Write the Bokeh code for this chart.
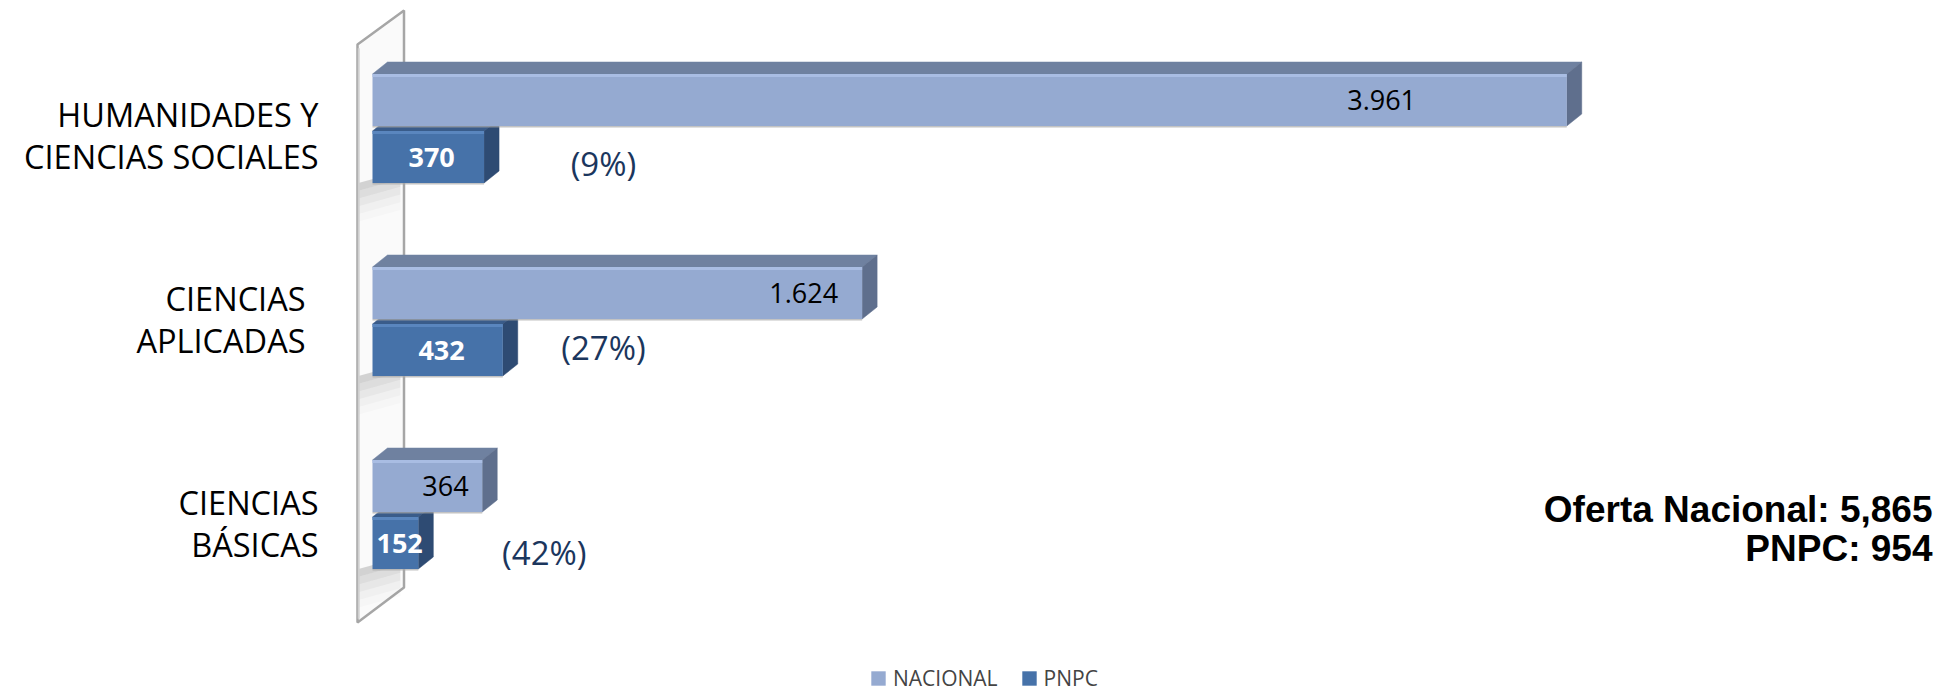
from bokeh.plotting import figure
from bokeh.models import Range1d, Legend, LegendItem
from bokeh.core.properties import value
from bokeh.embed import file_html
from bokeh.resources import INLINE

# ---------------- data ----------------
categories = ["CIENCIAS\nBÁSICAS", "CIENCIAS\nAPLICADAS", "HUMANIDADES Y\nCIENCIAS SOCIALES"]
nacional = [364, 1624, 3961]
pnpc = [152, 432, 370]
nacional_labels = ["364", "1.624", "3.961"]
pnpc_labels = ["152", "432", "370"]
pct_labels = ["(42%)", "(27%)", "(9%)"]
series = ["NACIONAL", "PNPC"]
summary = ["Oferta Nacional: 5,865", "PNPC: 954"]

# ---------------- layout / style ----------------
W, H = 1953, 692
PXU = 0.3015                 # px per value unit
ROW = 193.0                  # px per category row
xs = -372 / PXU
xe = xs + W / PXU
ye = 2 + 128 / ROW
ys = ye - H / ROW

BAR_H = 52 / ROW
GAP = 2.5 / ROW
DX = 15 / PXU
DY = 12 / ROW

# label positions (value units / row units)
nac_label_x = [242, 1430, 3347]
pnpc_label_x = [90, 229, 196]
pct_x = [570, 766, 766]
pct_dy = [-0.197, -0.135, -0.181]
cat_label_right = [-179, -222, -179]
cat_label_dy = [-0.047, 0.01, -0.036]

NAC_FRONT, NAC_TOP, NAC_SIDE = "#95AAD1", "#6F81A0", "#5F6F8D"
PN_FRONT, PN_TOP, PN_SIDE = "#4672A9", "#3A5C8A", "#2E4B73"

p = figure(width=W, height=H, output_backend="svg", toolbar_location=None,
           x_range=Range1d(xs, xe), y_range=Range1d(ys, ye), min_border=0)
p.axis.visible = False
p.grid.visible = False
p.outline_line_color = None
p.background_fill_color = "white"

# ---------------- side wall ----------------
wl, wr = -DX, 2.1 * DX
wall_x = [wl, wr, wr, wl]
wall_y = [ye - 44 / ROW, ye - 10 / ROW, ye - 587 / ROW, ye - 622 / ROW]
p.patch(wall_x, wall_y, fill_color="#FAFAFA", line_color="#A6A6A6", line_width=2.5)
# soft shadows on the wall below each group
for i in range(3):
    base = i - GAP - BAR_H
    for k, a in enumerate([0.32, 0.23, 0.15, 0.08, 0.03]):
        t = base - k * 0.04
        b = t - 0.04
        p.patch([wl + 3, wr - 12, wr - 12, wl + 3],
                [t, t + 0.06, b + 0.06, b], fill_color="#7F7F7F",
                fill_alpha=a, line_color=None)
p.line([wl + 4, wl + 4], [wall_y[3] + 0.02, wall_y[0] - 0.02], line_color="#D0D0D0", line_width=2)

# ---------------- bars (3D) ----------------
def bar3d(vals, bottoms, front, top, side, hl):
    tx, ty, sx, sy = [], [], [], []
    for v, b in zip(vals, bottoms):
        t = b + BAR_H
        tx.append([0, v, v + DX, DX]); ty.append([t, t, t + DY, t + DY])
        sx.append([v, v, v + DX, v + DX]); sy.append([b, t, t + DY, b + DY])
    p.patches(tx, ty, fill_color=top, line_color=top, line_width=0.5)
    p.patches(sx, sy, fill_color=side, line_color=side, line_width=0.5)
    r = p.quad(left=[0] * len(vals), right=vals, bottom=bottoms,
               top=[b + BAR_H for b in bottoms], fill_color=front,
               line_color=None)
    p.quad(left=[0] * len(vals), right=vals,
           bottom=[b + BAR_H - 3 / ROW for b in bottoms],
           top=[b + BAR_H for b in bottoms], fill_color=hl, line_color=None)
    p.quad(left=[0] * len(vals), right=vals,
           bottom=[b - 1.5 / ROW for b in bottoms],
           top=[b for b in bottoms], fill_color="#A9A9A9", fill_alpha=0.7,
           line_color=None)
    return r

yc = list(range(len(categories)))
r_pn = bar3d(pnpc, [y - GAP - BAR_H for y in yc], PN_FRONT, PN_TOP, PN_SIDE, "#5A86BE")
r_nac = bar3d(nacional, [y + GAP for y in yc], NAC_FRONT, NAC_TOP, NAC_SIDE, "#A9BDE3")

# ---------------- texts ----------------
p.text(x=nac_label_x, y=[y + GAP + BAR_H / 2 for y in yc], text=nacional_labels,
       text_font=value("Open Sans"), text_font_size="27px", text_color="black",
       text_align="center", text_baseline="middle")
p.text(x=pnpc_label_x, y=[y - GAP - BAR_H / 2 for y in yc], text=pnpc_labels,
       text_font=value("Open Sans"), text_font_size="27px", text_font_style="bold",
       text_color="white", text_align="center", text_baseline="middle")
p.text(x=pct_x, y=[y + d for y, d in zip(yc, pct_dy)], text=pct_labels,
       text_font=value("Open Sans"), text_font_size="33px", text_color="#1B365D",
       text_align="center", text_baseline="middle")
p.text(x=cat_label_right, y=[y + d for y, d in zip(yc, cat_label_dy)], text=categories,
       text_font=value("Open Sans"), text_font_size="32.5px", text_color="black",
       text_align="right", text_baseline="middle", text_line_height=0.92)
p.text(x=[(1932 - 372) / PXU] * 2, y=[ye - 509 / ROW, ye - 548 / ROW],
       text=summary, text_font=value("Liberation Sans"), text_font_size="37px",
       text_font_style="bold", text_color="black", text_align="right",
       text_baseline="alphabetic")

legend = Legend(items=[LegendItem(label=series[0], renderers=[r_nac]),
                       LegendItem(label=series[1], renderers=[r_pn])],
                orientation="horizontal", location=(869, 0),
                label_text_font="Open Sans", label_text_font_size="21px",
                glyph_width=18, glyph_height=18, label_standoff=6, spacing=22,
                padding=0, margin=0, border_line_color=None,
                background_fill_alpha=0, label_height=18)
p.add_layout(legend)

open("out.html", "w").write(file_html(p, INLINE))
